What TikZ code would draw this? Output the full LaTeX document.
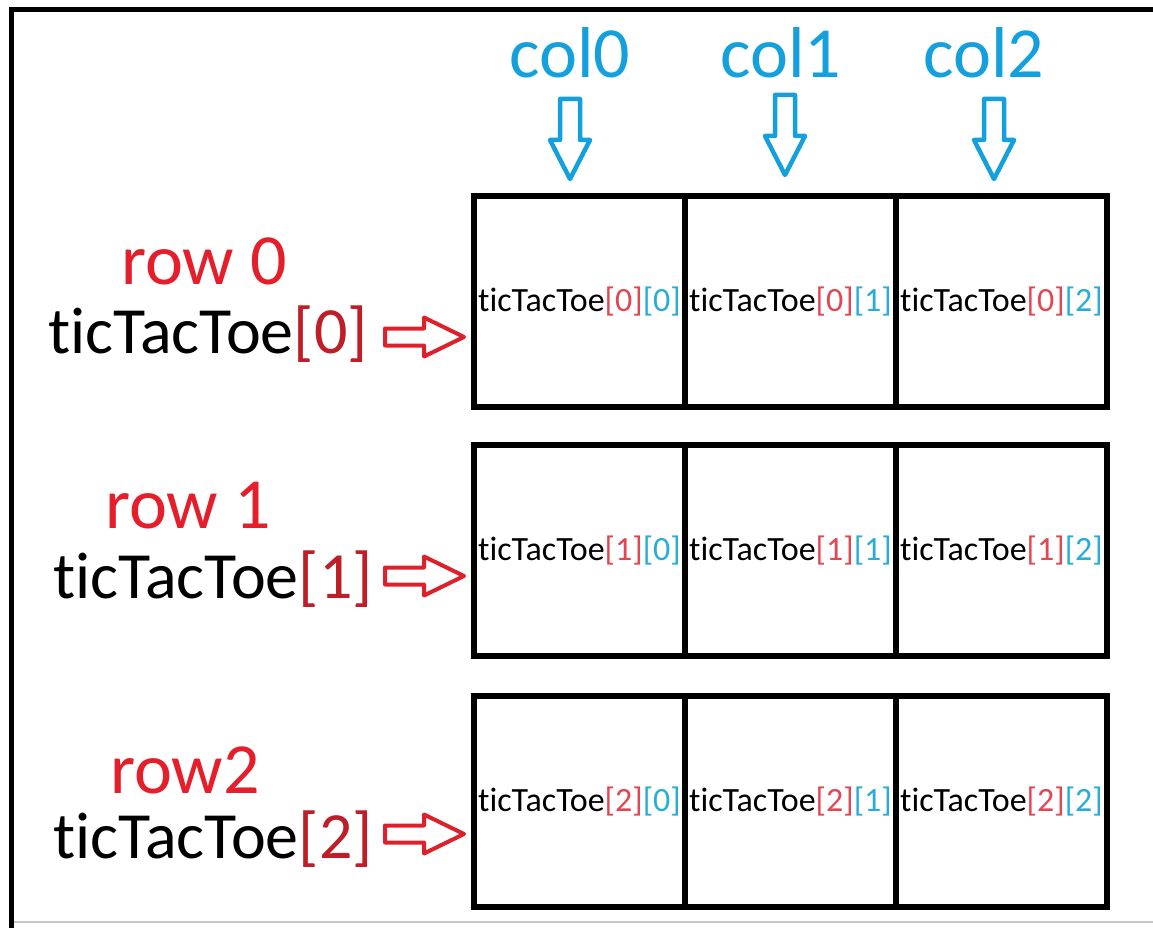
\documentclass[tikz,border=0pt]{standalone}
\usepackage{fontspec}
\setmainfont{Carlito}[Ligatures={NoCommon}]
\definecolor{colblue}{RGB}{20,160,220}
\definecolor{rowred}{RGB}{228,30,42}
\definecolor{darkred}{RGB}{190,30,40}
\definecolor{arrred}{RGB}{222,32,42}
\definecolor{cellred}{RGB}{226,70,82}
\definecolor{cellblue}{RGB}{40,172,216}
\begin{document}
\begin{tikzpicture}[x=1pt,y=-1pt,
  big/.style={inner sep=0pt, font=\fontsize{72}{80}\selectfont},
  mid/.style={inner sep=0pt, font=\fontsize{66}{74}\selectfont},
  cell/.style={draw=black, line width=6pt, minimum width=211pt, minimum height=211pt, inner sep=0pt, font=\fontsize{34}{38}\selectfont},
  bluearr/.style={draw=colblue, line width=4.5pt, line join=round},
  redarr/.style={draw=arrred, line width=4pt, line join=round},
  downarr/.pic={\draw[bluearr] (-10,0) -- (10,0) -- (10,41) -- (20,41) -- (0,80) -- (-20,41) -- (-10,41) -- cycle;},
  rightarr/.pic={\draw[redarr] (0,-8.5) -- (39,-8.5) -- (39,-19.5) -- (79,0) -- (39,19.5) -- (39,8.5) -- (0,8.5) -- cycle;}
]
\useasboundingbox (0,0) rectangle (1153,928);
% frame
\draw[black, line width=5pt] (11,932) -- (11,10) -- (1160,10);
\draw[gray!45, line width=1.5pt] (14,922) -- (1153,922);

% column labels
\node[big, text=colblue, anchor=base] (col0) at (570,78) {col0};
\node[big, text=colblue, anchor=base] (col1) at (781,78) {col1};
\node[big, text=colblue, anchor=base] (col2) at (984,78) {col2};
\pic (d0) at (570,99) {downarr};
\pic (d1) at (785,95) {downarr};
\pic (d2) at (994,99) {downarr};

% cells
\foreach \r/\y in {0/301.5,1/550.5,2/801.5}{
  \foreach \c/\x in {0/579.5,1/790.5,2/1001.5}{
    \node[cell] (c\r\c) at (\x,\y) {ticTacToe\textcolor{cellred}{[\r]}\textcolor{cellblue}{[\c]}};
  }
}

% row labels
\node[big, text=rowred, anchor=base] (row0) at (204,284) {row 0};
\node[mid, anchor=base west] (tt0) at (48,353) {ticTacToe\textcolor{darkred}{[0]}};
\node[big, text=rowred, anchor=base] (row1) at (188,528) {row 1};
\node[mid, anchor=base west] (tt1) at (53,598) {ticTacToe\textcolor{darkred}{[1]}};
\node[big, text=rowred, anchor=base] (row2) at (185,793) {row2};
\node[mid, anchor=base west] (tt2) at (53,858) {ticTacToe\textcolor{darkred}{[2]}};

\pic (a0) at (385,337) {rightarr};
\pic (a1) at (385,576) {rightarr};
\pic (a2) at (385,834) {rightarr};
\end{tikzpicture}
\end{document}
